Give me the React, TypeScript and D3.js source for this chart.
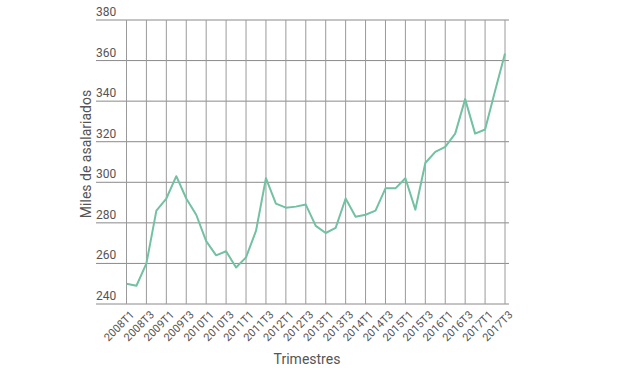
import React, { useEffect, useRef } from 'react';
import * as d3 from 'd3';

// trimestres 2008T1 .. 2017T3
const quarters: string[] = [];
for (let y = 2008; y <= 2017; y++) {
  for (let q = 1; q <= 4; q++) {
    if (y === 2017 && q > 3) break;
    quarters.push(`${y}T${q}`);
  }
}

const asalariados = [
  250, 249, 260, 286, 292, 303, 292, 284, 271, 264,
  266, 258, 263, 276, 302, 289.5, 287.5, 288, 289, 278.5,
  275, 277.5, 292, 283, 284, 286, 297, 297, 302, 286.5,
  309.5, 315, 317.5, 324, 341, 324, 326, 345, 363.5,
];

const yTicks = [240, 260, 280, 300, 320, 340, 360, 380];

function App() {
  const ref = useRef<SVGSVGElement>(null);

  useEffect(() => {
    const svg = d3.select(ref.current);
    svg.selectAll('*').remove();

    const left = 96, right = 509, top = 20, bottom = 304;

    const x = d3.scalePoint<string>()
      .domain(quarters)
      .range([126.5, 505]);

    const y = d3.scaleLinear()
      .domain([240, 380])
      .range([bottom, top]);

    const g = svg.append('g');

    // horizontal grid + labels
    g.selectAll('line.h').data(yTicks).enter().append('line')
      .attr('x1', left).attr('x2', right)
      .attr('y1', d => y(d)).attr('y2', d => y(d))
      .attr('stroke', '#8a8a8a').attr('stroke-width', 1);

    g.selectAll('text.yl').data(yTicks).enter().append('text')
      .attr('x', left).attr('y', d => y(d) - 4)
      .attr('font-family', 'Roboto, sans-serif')
      .attr('font-size', 12)
      .attr('fill', '#555')
      .text(d => d);

    const labelled = quarters.filter((_, i) => i % 2 === 0);

    // vertical grid
    g.selectAll('line.v').data(labelled).enter().append('line')
      .attr('x1', d => x(d)!).attr('x2', d => x(d)!)
      .attr('y1', top).attr('y2', bottom)
      .attr('stroke', '#9a9a9a').attr('stroke-width', 1);

    g.selectAll('text.xl').data(labelled).enter().append('text')
      .attr('transform', d => `translate(${x(d)! + 3},${bottom + 6}) rotate(-45)`)
      .attr('text-anchor', 'end')
      .attr('dy', '0.7em')
      .attr('font-family', 'Roboto, sans-serif')
      .attr('font-size', 11)
      .attr('fill', '#555')
      .text(d => d);

    const line = d3.line<number>()
      .x((_, i) => x(quarters[i])!)
      .y(d => y(d));

    g.append('path')
      .datum(asalariados)
      .attr('d', line)
      .attr('fill', 'none')
      .attr('stroke', '#72c1a2')
      .attr('stroke-width', 2)
      .attr('stroke-linejoin', 'round');

    g.append('text')
      .attr('x', 307).attr('y', 364)
      .attr('text-anchor', 'middle')
      .attr('font-family', 'Roboto, sans-serif')
      .attr('font-size', 14)
      .attr('fill', '#555')
      .text('Trimestres');

    g.append('text')
      .attr('transform', `translate(91,${(top + bottom) / 2 - 8}) rotate(-90)`)
      .attr('text-anchor', 'middle')
      .attr('font-family', 'Roboto, sans-serif')
      .attr('font-size', 14)
      .attr('fill', '#555')
      .text('Miles de asalariados');
  }, []);

  return (
    <svg ref={ref} width={620} height={368}
      style={{ position: 'absolute', left: 0, top: 0, background: '#fff' }} />
  );
}

export default App;
